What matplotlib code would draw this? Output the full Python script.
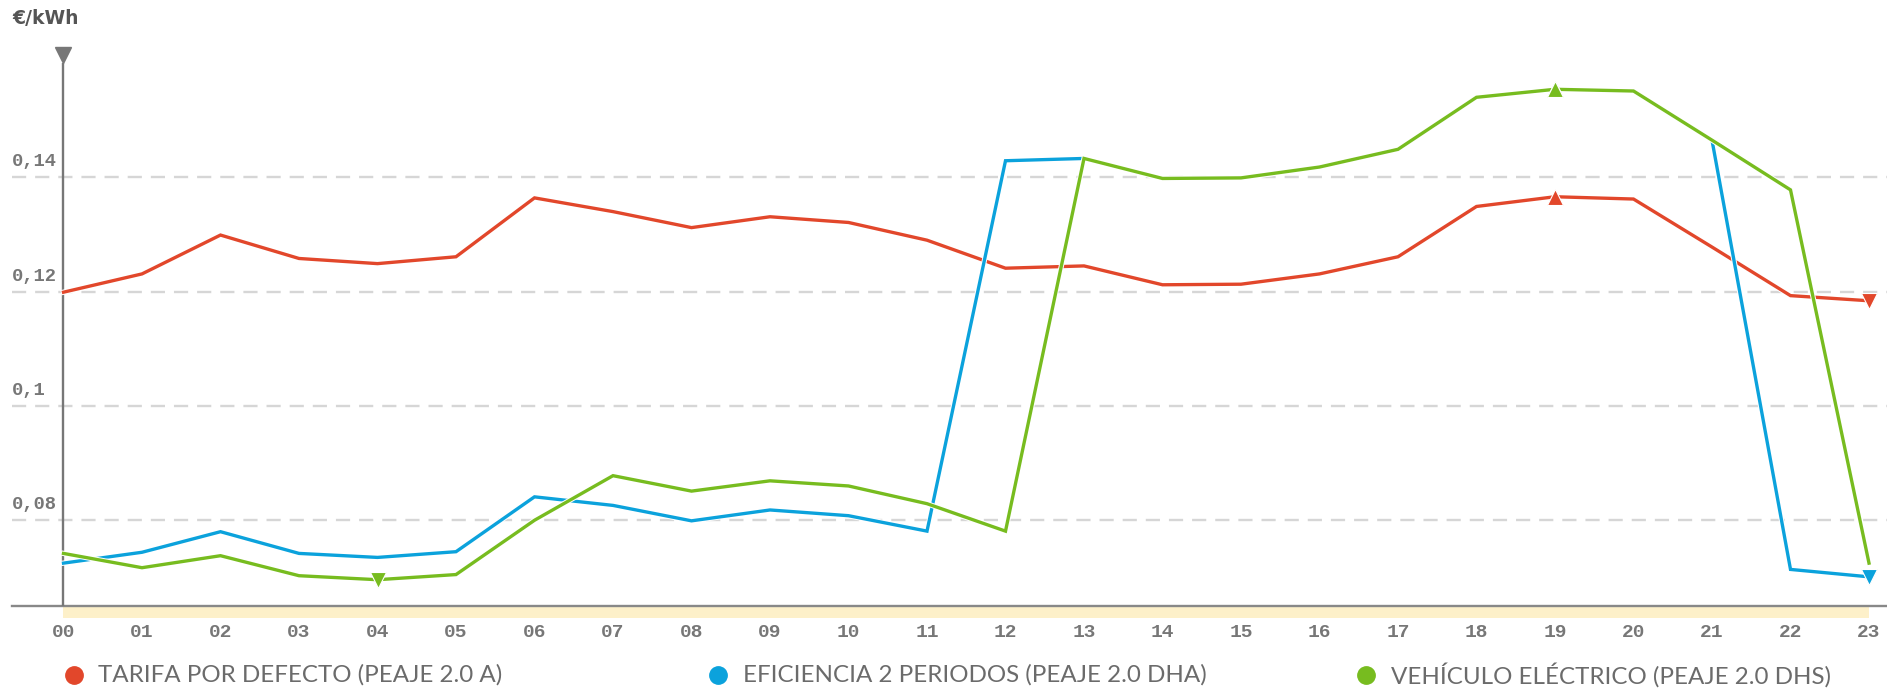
import numpy as np
import matplotlib
matplotlib.use("Agg")
import matplotlib.pyplot as plt
import matplotlib.patheffects as pe
from matplotlib.lines import Line2D
from matplotlib.patches import Rectangle
import matplotlib.transforms as mtransforms

# datos (EUR/kWh por hora)
hours = list(range(24))
hour_labels = ["%02d" % h for h in hours]
tarifa = [0.1199, 0.1231, 0.1299, 0.1258, 0.1249, 0.1261, 0.1364, 0.1340,
          0.1312, 0.1331, 0.1321, 0.1290, 0.1241, 0.1245, 0.1212, 0.1213,
          0.1231, 0.1261, 0.1349, 0.1366, 0.1362, 0.1278, 0.1193, 0.1184]
dha = [0.0725, 0.0744, 0.0780, 0.0742, 0.0735, 0.0745, 0.0841, 0.0826,
       0.0799, 0.0818, 0.0808, 0.0781, 0.1429, 0.1433, 0.1398, 0.1399,
       0.1418, 0.1449, 0.1540, 0.1554, 0.1551, 0.1465, 0.0714, 0.0701]
dhs = [0.0742, 0.0717, 0.0738, 0.0703, 0.0696, 0.0705, 0.0800, 0.0878,
       0.0851, 0.0869, 0.0860, 0.0829, 0.0781, 0.1433, 0.1398, 0.1399,
       0.1418, 0.1449, 0.1540, 0.1554, 0.1551, 0.1465, 0.1378, 0.0725]
series_names = ["TARIFA POR DEFECTO (PEAJE 2.0 A)",
                "EFICIENCIA 2 PERIODOS (PEAJE 2.0 DHA)",
                "VEHÍCULO ELÉCTRICO (PEAJE 2.0 DHS)"]
yticks = [0.08, 0.10, 0.12, 0.14]
ytick_labels = ["0,08", "0,1", "0,12", "0,14"]

colors = ["#E2472B", "#0BA2DC", "#77BC1F"]
grey = "#777777"

fig = plt.figure(figsize=(18.87, 6.89), dpi=100)
ax = fig.add_axes([12 / 1887, (689 - 606) / 689, 1 - 12 / 1887, (606 - 63) / 689])

px = 78.5  # pixels per hour
ax.set_xlim(-51.5 / px, 23 + 18 / px)
ax.set_ylim(0.065, 0.16)
for s in ax.spines.values():
    s.set_visible(False)

# grid
for v in yticks:
    ax.axhline(v, color="#d6d6d6", lw=1.7, dashes=(6, 3.8), zorder=0)
for v, lab in zip(yticks, ytick_labels):
    ax.annotate(lab, xy=(0, v), xycoords=("axes fraction", "data"),
                xytext=(0, 7), textcoords="offset pixels", ha="left", va="bottom",
                family="Liberation Mono", weight="bold", fontsize=13.5, color=grey)

# axes lines
ax.axhline(0.065, color="#888888", lw=1.7, zorder=3, clip_on=False)
ax.axvline(0, color=grey, lw=1.7, zorder=3)
ax.plot([0], [0.1614], marker="v", ms=11, color=grey, clip_on=False, zorder=4)

# yellow band under x axis
trans = mtransforms.blended_transform_factory(ax.transData, ax.transAxes)
ax.add_patch(Rectangle((0, -12 / 543), 23, 11.5 / 543, transform=trans,
                       color="#FDF0C9", clip_on=False, zorder=1, lw=0))

ax.set_xticks(hours)
ax.set_xticklabels(hour_labels, family="Liberation Mono", weight="bold",
                   fontsize=14, color=grey)
ax.tick_params(axis="x", length=0, pad=13)
ax.set_yticks([])

# series
for vals, c in zip([tarifa, dha, dhs], colors):
    ax.plot(hours, vals, color=c, lw=2.4, zorder=5, solid_joinstyle="miter",
            path_effects=[pe.Stroke(linewidth=3.8, foreground="white"), pe.Normal()])
    i_max = int(np.argmax(vals))
    i_min = int(np.argmin(vals))
    ax.plot(hours[i_max], vals[i_max], marker="^", ms=12, color=c,
            mec="white", mew=0.8, zorder=6, clip_on=False)
    ax.plot(hours[i_min], vals[i_min], marker="v", ms=12, color=c,
            mec="white", mew=0.8, zorder=6, clip_on=False)

# unit label
fig.text(12 / 1887, 1 - 19 / 689, "€/kWh", ha="left", va="center",
         family="DejaVu Sans", weight="bold", fontsize=13.5, color="#555555")

# legend
legend_x = [73.5, 718, 1366]
legend_y = 1 - 675 / 689
for x, c, name in zip(legend_x, colors, series_names):
    fig.add_artist(Line2D([x / 1887], [legend_y], marker="o", ms=12.5, color=c,
                          lw=0, transform=fig.transFigure))
    fig.text((x + 25) / 1887, legend_y, name, ha="left", va="center",
             family="Lato", fontsize=17.4, color="#6b6b6b")

fig.savefig("out.png", dpi=100)
